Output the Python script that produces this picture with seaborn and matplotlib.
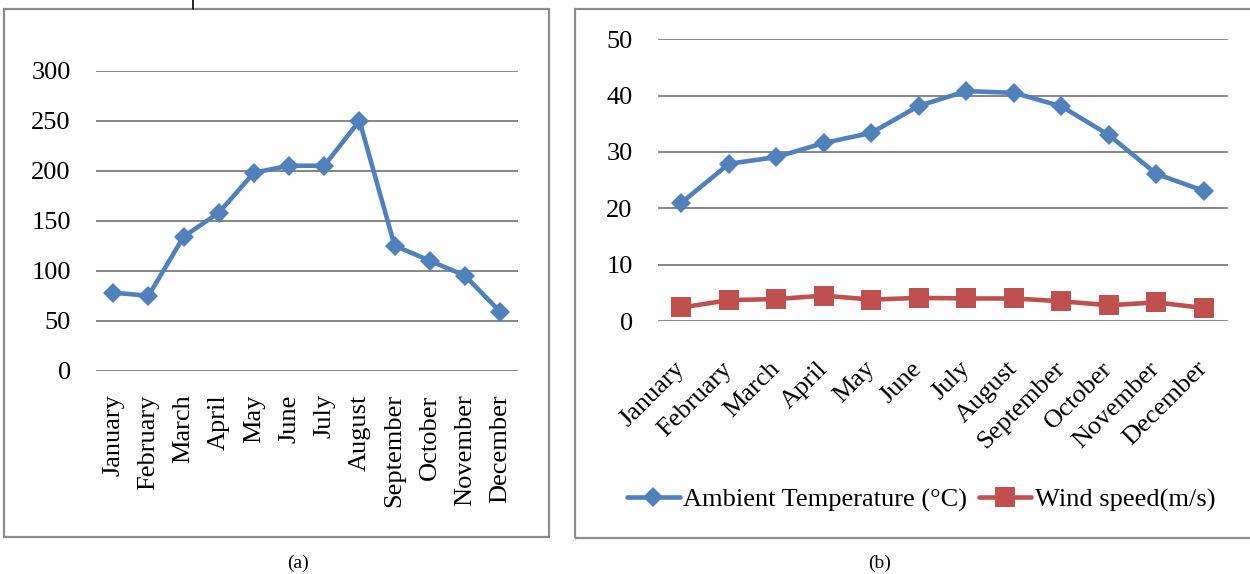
import matplotlib
matplotlib.use('Agg')
import matplotlib.pyplot as plt
from matplotlib.patches import Rectangle
from matplotlib.lines import Line2D
import seaborn as sns

months = ['January', 'February', 'March', 'April', 'May', 'June', 'July',
          'August', 'September', 'October', 'November', 'December']
# panel (a)
series_a = [78, 75, 134, 158, 198, 205, 205, 250, 125, 110, 95, 59]
# panel (b)
temperature = [21.0, 27.9, 29.1, 31.6, 33.4, 38.2, 40.8, 40.5, 38.1, 33.0, 26.1, 23.1]
wind_speed = [2.4, 3.7, 3.9, 4.5, 3.8, 4.1, 4.0, 4.0, 3.5, 2.8, 3.3, 2.3]

ticks_a = [0, 50, 100, 150, 200, 250, 300]
ticks_b = [0, 10, 20, 30, 40, 50]

BLUE = '#4f81bd'
RED = '#c0504d'
GRID = '#868686'
FS = 19

sns.set_style('white')
plt.rcParams['font.family'] = ['Liberation Serif', 'DejaVu Serif']
plt.rcParams['text.color'] = 'black'
plt.rcParams['xtick.color'] = 'black'
plt.rcParams['ytick.color'] = 'black'

W, H = 1250, 574
fig = plt.figure(figsize=(W / 100, H / 100), dpi=100)


def fx(px):
    return px / W


def fy(py):
    return 1 - py / H


# outer boxes round each panel
for x0, y0, x1, y1 in [(4, 9, 549, 537), (575, 9, 1262, 538)]:
    fig.patches.append(Rectangle((fx(x0), fy(y1)), fx(x1 - x0), (y1 - y0) / H,
                                 transform=fig.transFigure, fill=False,
                                 edgecolor='#8c8c8c', linewidth=1.6, zorder=0))
fig.lines.append(Line2D([fx(193), fx(193)], [fy(0), fy(9)],
                        transform=fig.transFigure, color='black', linewidth=1.2))


def style_axis(ax, ticks):
    ax.set_ylim(ticks[0], ticks[-1])
    ax.set_xlim(-0.5, 11.5)
    ax.set_yticks(ticks)
    ax.yaxis.grid(True, color=GRID, linewidth=1.4)
    ax.xaxis.grid(False)
    ax.set_axisbelow(True)
    for s in ax.spines.values():
        s.set_visible(False)
    ax.tick_params(axis='both', length=0, labelsize=FS, colors='black')
    ax.tick_params(axis='y', pad=18)
    ax.set_xlabel('')
    ax.set_ylabel('')
    ax.patch.set_alpha(0)


# (a)
ax1 = fig.add_axes([fx(95.7), fy(370.7), fx(422), (370.7 - 70.7) / H])
sns.lineplot(x=months, y=series_a, ax=ax1, color=BLUE, linewidth=3.3,
             marker='D', markersize=10.5, markeredgewidth=0, sort=False)
style_axis(ax1, ticks_a)
ax1.set_xticks(range(len(months)))
ax1.set_xticklabels(months, rotation=90, ha='center', va='top')
ax1.tick_params(axis='x', pad=17)

# (b)
ax2 = fig.add_axes([fx(657.7), fy(321), fx(570), (321 - 39.3) / H])
sns.lineplot(x=months, y=temperature, ax=ax2, color=BLUE, linewidth=3.3,
             marker='D', markersize=10.5, markeredgewidth=0, sort=False,
             label='Ambient Temperature (°C)')
sns.lineplot(x=months, y=wind_speed, ax=ax2, color=RED, linewidth=3.3,
             marker='s', markersize=14, markeredgewidth=0, sort=False,
             label='Wind speed(m/s)')
style_axis(ax2, ticks_b)
ax2.set_xticks(range(len(months)))
ax2.set_xticklabels(months, rotation=45, ha='right', va='center',
                    rotation_mode='anchor')
ax2.tick_params(axis='x', pad=32)
ax2.legend(loc='center', bbox_to_anchor=(fx(921), fy(500)),
           bbox_transform=fig.transFigure, ncol=2, frameon=False,
           fontsize=FS, handlelength=2.0, handletextpad=0.12,
           columnspacing=0.45, borderaxespad=0)

fig.text(fx(298), fy(572), '(a)', ha='center', va='bottom', fontsize=14)
fig.text(fx(880), fy(572), '(b)', ha='center', va='bottom', fontsize=14)

fig.savefig('out.png', dpi=100)
